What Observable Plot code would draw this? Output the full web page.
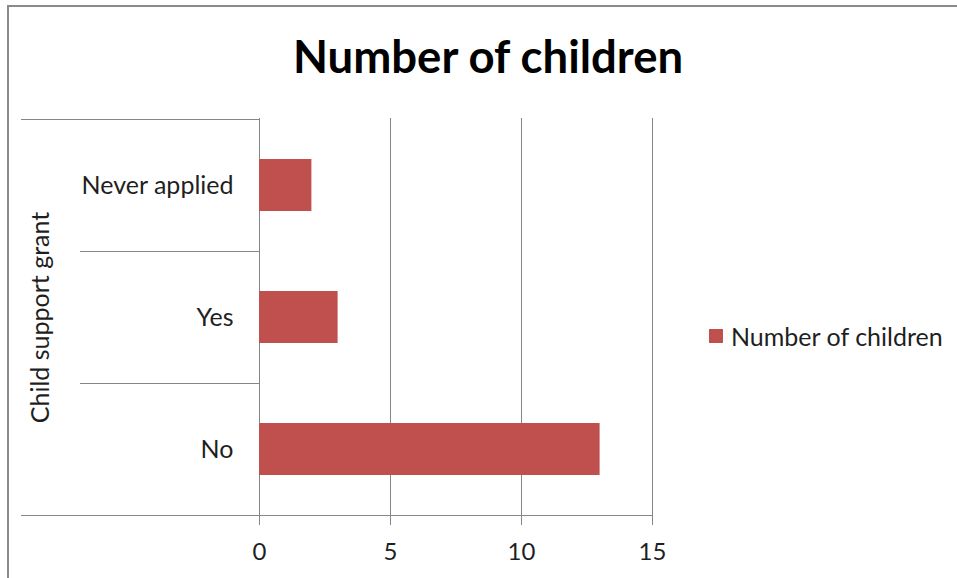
<!DOCTYPE html>
<html>
<head>
<meta charset="utf-8">
<script src="https://cdn.jsdelivr.net/npm/d3@7"></script>
<script src="https://cdn.jsdelivr.net/npm/@observablehq/plot@0.6"></script>
<style>
  html, body { margin: 0; padding: 0; background: #fff; }
  #wrap { position: relative; width: 957px; height: 578px; overflow: hidden; font-family: Lato, sans-serif; color: #1f1f1f; }
  #border { position: absolute; left: 7px; top: 5px; width: 1100px; height: 800px; border-left: 2px solid #8a8a8a; border-top: 2px solid #8a8a8a; }
  #title { position: absolute; left: 0; top: 28px; width: 976px; text-align: center; font-weight: 700; font-size: 45.5px; line-height: 56px; color: #000; }
  #chart { position: absolute; left: 0; top: 0; }
  #legend { position: absolute; left: 709px; top: 321px; display: flex; align-items: center; font-size: 25px; white-space: nowrap; }
  #legend .sw { width: 14px; height: 14px; margin-right: 8px; }
</style>
</head>
<body>
<div id="wrap">
  <div id="border"></div>
  <div id="title">Number of children</div>
  <div id="chart"></div>
  <div id="legend"><span class="sw"></span><span id="legtext"></span></div>
</div>
<script>
const categories = ["Never applied", "Yes", "No"];
const values = [2, 3, 13];
const xTicks = [0, 5, 10, 15];
const seriesName = "Number of children";
const axisTitle = "Child support grant";
const barColor = "#C0504D";
const lineColor = "#868686";

const data = categories.map((c, i) => ({category: c, value: values[i]}));

const plot = Plot.plot({
  width: 957,
  height: 578,
  marginLeft: 259,
  marginRight: 305,
  marginTop: 118,
  marginBottom: 62,
  style: {fontFamily: "Lato, sans-serif", fontSize: "25px", color: "#1f1f1f", background: "transparent", overflow: "visible"},
  x: {domain: [0, 15]},
  y: {domain: categories, padding: 0},
  marks: [
    Plot.gridX(xTicks.slice(1), {stroke: lineColor, strokeOpacity: 1}),
    Plot.ruleX([0], {stroke: lineColor}),
    Plot.barX(data, {x: "value", y: "category", fill: barColor, insetTop: 40, insetBottom: 40}),
    Plot.axisX(xTicks, {tickSize: 9, tickPadding: 17, stroke: lineColor, label: null, fill: "#1f1f1f", fontSize: 24}),
    Plot.axisY({tickSize: 0, tickPadding: 26, label: axisTitle, labelAnchor: "center", labelArrow: "none", labelOffset: 228, fill: "#1f1f1f"})
  ]
});
document.getElementById("chart").appendChild(plot);

// category boundary lines (multi-level category axis)
const xs = plot.scale("x"), ys = plot.scale("y");
const x0 = xs.apply(0), x15 = xs.apply(15);
const bw = ys.bandwidth;
const svg = d3.select(plot);
const bounds = categories.map(c => ys.apply(c)).concat([ys.apply(categories[categories.length - 1]) + bw]);
bounds.forEach((yy, i) => {
  const outer = i === 0 || i === bounds.length - 1;
  svg.append("line")
    .attr("x1", outer ? 21 : 80).attr("x2", i === bounds.length - 1 ? x15 : x0)
    .attr("y1", Math.round(yy) + 0.5).attr("y2", Math.round(yy) + 0.5)
    .attr("stroke", lineColor).attr("stroke-width", 1);
});

document.querySelector("#legend .sw").style.background = barColor;
document.getElementById("legtext").textContent = seriesName;
</script>
</body>
</html>
